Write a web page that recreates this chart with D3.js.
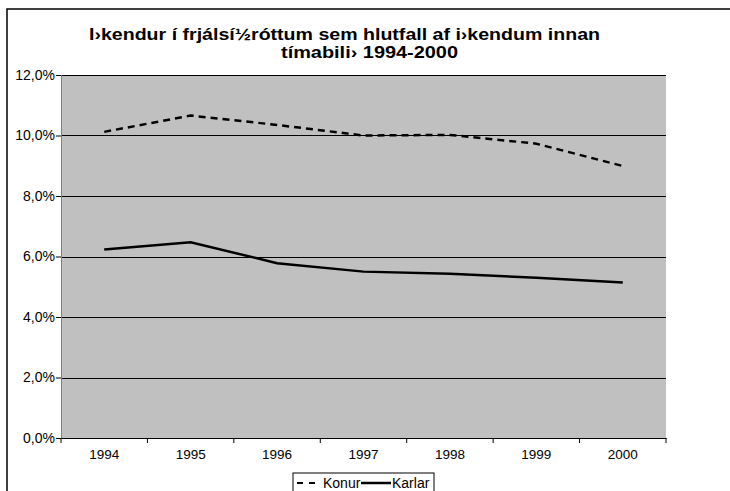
<!DOCTYPE html>
<html>
<head>
<meta charset="utf-8">
<script src="https://cdn.jsdelivr.net/npm/d3@7"></script>
<style>
  body { margin: 0; background: #fff; }
  svg { display: block; font-family: "Liberation Sans", Arial, sans-serif; }
</style>
</head>
<body>
<svg id="chart" width="730" height="491"></svg>
<script>
const years = ["1994", "1995", "1996", "1997", "1998", "1999", "2000"];
const konur = [10.12, 10.66, 10.35, 10.0, 10.02, 9.73, 8.99];
const karlar = [6.23, 6.47, 5.78, 5.5, 5.43, 5.3, 5.14];
const yTicks = [0, 2, 4, 6, 8, 10, 12];
const titleLines = ["I›kendur í frjálsí½róttum sem hlutfall af i›kendum innan", "tímabili› 1994-2000"];

const svg = d3.select("#chart");
const margin = { top: 75, right: 64, bottom: 53, left: 61 };
const width = 730 - margin.left - margin.right;
const height = 491 - margin.top - margin.bottom;

// outer chart frame (top and left edges visible)
svg.append("path")
    .attr("d", "M7,491 V9 H730")
    .attr("fill", "none")
    .attr("stroke", "#000")
    .attr("stroke-width", 1.5);

// title, stretched to the width it has in the original
svg.append("text")
    .attr("x", 89).attr("y", 40)
    .attr("textLength", 511).attr("lengthAdjust", "spacingAndGlyphs")
    .style("font-size", "16px").style("font-weight", "bold")
    .text(titleLines[0]);
svg.append("text")
    .attr("x", 281).attr("y", 58)
    .attr("textLength", 177).attr("lengthAdjust", "spacingAndGlyphs")
    .style("font-size", "16px").style("font-weight", "bold")
    .text(titleLines[1]);

const g = svg.append("g")
    .attr("transform", `translate(${margin.left}, ${margin.top})`);

const x = d3.scaleBand().domain(years).range([0, width]);
const y = d3.scaleLinear().domain([0, 12]).range([height, 0]);

// plot background
g.append("rect")
    .attr("width", width).attr("height", height)
    .attr("fill", "#c0c0c0");

// gridlines
g.selectAll(".grid")
    .data(yTicks.filter(d => d > 0))
    .enter().append("line")
    .attr("x1", 0).attr("x2", width)
    .attr("y1", d => Math.round(y(d)) + 0.5).attr("y2", d => Math.round(y(d)) + 0.5)
    .attr("stroke", "#000");

// y axis
const yAxis = g.append("g")
    .call(d3.axisLeft(y).tickValues(yTicks).tickSize(5).tickPadding(1)
        .tickFormat(d => d.toFixed(1).replace(".", ",") + "%"));
yAxis.select(".domain").attr("stroke", "#808080");
yAxis.selectAll("text").style("font-size", "14px").attr("fill", "#000");

// x axis with ticks at category boundaries
const xAxis = g.append("g")
    .attr("transform", `translate(0, ${height})`)
    .call(d3.axisBottom(x).tickSize(0).tickPadding(11));
xAxis.selectAll("text").style("font-size", "13.5px").attr("fill", "#000");
xAxis.selectAll(".boundary")
    .data(d3.range(years.length + 1))
    .enter().append("line")
    .attr("x1", i => i * x.step()).attr("x2", i => i * x.step())
    .attr("y1", 0).attr("y2", 5)
    .attr("stroke", "#000");

const line = d3.line()
    .x((d, i) => x(years[i]) + x.bandwidth() / 2)
    .y(d => y(d));

g.append("path")
    .datum(konur)
    .attr("d", line)
    .attr("fill", "none")
    .attr("stroke", "#000")
    .attr("stroke-width", 2.5)
    .attr("stroke-dasharray", "7,5");

g.append("path")
    .datum(karlar)
    .attr("d", line)
    .attr("fill", "none")
    .attr("stroke", "#000")
    .attr("stroke-width", 2.5);

// legend
const legend = svg.append("g").attr("transform", "translate(293, 473)");
legend.append("rect")
    .attr("width", 141).attr("height", 24)
    .attr("fill", "#fff").attr("stroke", "#000");
legend.append("line")
    .attr("x1", 4).attr("x2", 24).attr("y1", 10).attr("y2", 10)
    .attr("stroke", "#000").attr("stroke-width", 2).attr("stroke-dasharray", "6,6");
legend.append("text")
    .attr("x", 30).attr("y", 15)
    .style("font-size", "14px")
    .text("Konur");
legend.append("line")
    .attr("x1", 68).attr("x2", 98).attr("y1", 10).attr("y2", 10)
    .attr("stroke", "#000").attr("stroke-width", 2.5);
legend.append("text")
    .attr("x", 99).attr("y", 15)
    .style("font-size", "14px")
    .text("Karlar");
</script>
</body>
</html>
